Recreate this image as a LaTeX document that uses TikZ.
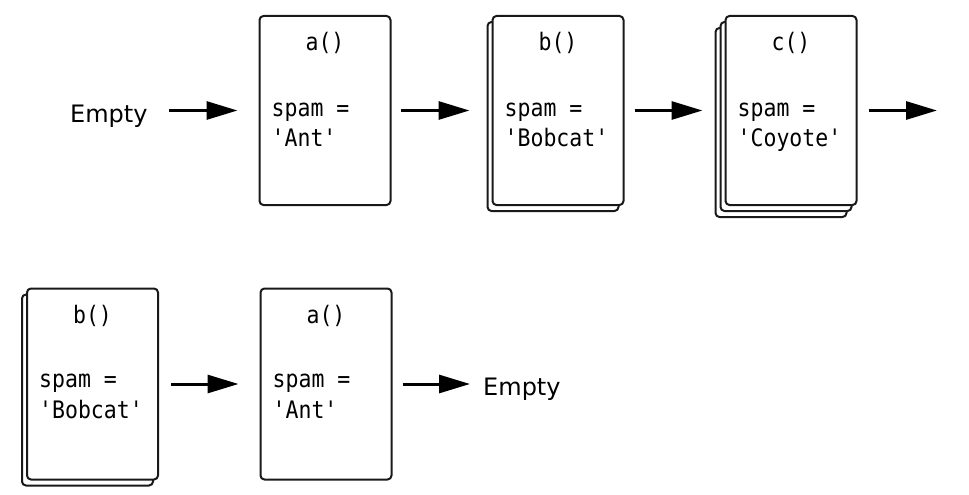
\documentclass[tikz,border=0pt]{standalone}
\usepackage{fontspec}
\setmainfont{DejaVu Sans}
\newfontfamily\monof{DejaVu Sans Mono}
\usetikzlibrary{arrows.meta,shadows,calc}
\newcommand{\mytall}[1]{\scalebox{1}[1.12]{#1}}
\begin{document}
\begin{tikzpicture}[x=1pt,y=-1pt,
  frame/.style={draw=black!90, line width=2pt, rounded corners=4pt, fill=white,
    minimum width=131pt, minimum height=189pt, inner sep=0pt},
  onesh/.style={copy shadow={shadow xshift=-5pt, shadow yshift=-6pt, draw=black!90, fill=white, line width=2pt}},
  twosh/.style={double copy shadow={shadow xshift=-5pt, shadow yshift=-6pt, draw=black!90, fill=white, line width=2pt}},
  mono/.style={font=\monof\fontsize{21.5}{26}\selectfont, text=black, inner sep=0pt, anchor=base west},
  ftitle/.style={font=\monof\fontsize{21.5}{26}\selectfont, text=black, inner sep=0pt, anchor=base},
  lab/.style={font=\fontsize{24}{28}\selectfont, inner sep=0pt, anchor=base west},
  arr/.style={line width=3pt, -{Triangle[length=31pt,width=18pt]}}]
\useasboundingbox (0,0) rectangle (969,495);

% top row
\node[lab] (e1) at (70,122) {Empty};
\node[frame] (a1) at (325,110.5) {};
\node[frame, onesh] (b1) at (558,110.5) {};
\node[frame, twosh] (c1) at (791,110.5) {};
\coordinate (cend) at (937,110.5);

\foreach \n/\t/\v in {a1/a()/'Ant', b1/b()/'Bobcat', c1/c()/'Coyote'}{
  \node[ftitle] (\n t) at ($(\n.north)+(0,36)$) {\mytall{\t}};
  \node[mono] (\n s) at ($(\n.north west)+(13,101)$) {\mytall{spam =}};
  \node[mono] (\n v) at ($(\n.north west)+(13,131)$) {\mytall{\v}};
}

\draw[arr] ($(e1.east|-a1.west)+(21,0)$) -- ($(a1.west)+(-21,0)$);
\draw[arr] ($(a1.east)+(9,0)$) -- ($(b1.west)+(-22,0)$);
\draw[arr] ($(b1.east)+(10,0)$) -- ($(c1.west)+(-22,0)$);
\draw[arr] ($(c1.east)+(11,0)$) -- (cend);

% bottom row
\node[frame, onesh, minimum height=191pt] (b2) at (92.5,384) {};
\node[frame, minimum height=191pt] (a2) at (326,384) {};
\node[lab] (e2) at (483,395) {Empty};

\foreach \n/\t/\v in {b2/b()/'Bobcat', a2/a()/'Ant'}{
  \node[ftitle] (\n t) at ($(\n.north)+(0,36)$) {\mytall{\t}};
  \node[mono] (\n s) at ($(\n.north west)+(13,100)$) {\mytall{spam =}};
  \node[mono] (\n v) at ($(\n.north west)+(13,131)$) {\mytall{\v}};
}

\draw[arr] ($(b2.east)+(12,0)$) -- ($(a2.west)+(-21,0)$);
\draw[arr] ($(a2.east)+(10,0)$) -- ($(e2.west|-a2.west)+(-13,0)$);
\end{tikzpicture}
\end{document}
